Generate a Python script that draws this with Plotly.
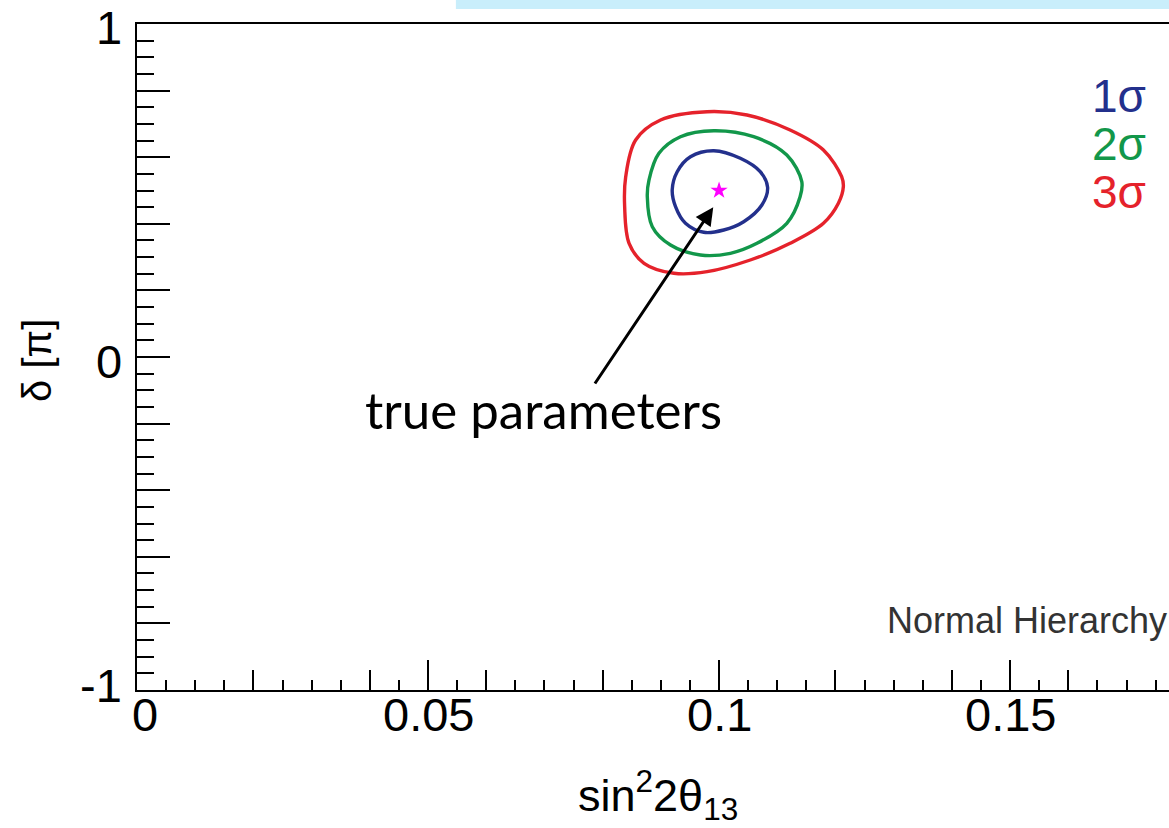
import plotly.graph_objects as go

# Confidence contours in the (sin^2 2theta13, delta/pi) plane
blue_x = [0.09195, 0.09281, 0.09509, 0.09909, 0.10365, 0.10707, 0.10834, 0.10736,
          0.10423, 0.10080, 0.09738, 0.09423, 0.09252]
blue_y = [0.5015, 0.5565, 0.6015, 0.6195, 0.5967, 0.5565, 0.5096, 0.4565,
          0.4063, 0.3814, 0.3745, 0.4015, 0.4514]

green_x = [0.08767, 0.08796, 0.08967, 0.09337, 0.09909, 0.10594, 0.11164, 0.11421,
           0.11392, 0.11164, 0.10651, 0.10194, 0.09680, 0.09166, 0.08853]
green_y = [0.4814, 0.5315, 0.6117, 0.6616, 0.6796, 0.6616, 0.6066, 0.5264,
           0.4814, 0.4015, 0.3414, 0.3114, 0.3063, 0.3363, 0.3913]

red_x = [0.08378, 0.08396, 0.08567, 0.08995, 0.09795, 0.10479, 0.11221, 0.11793,
         0.12106, 0.12135, 0.12050, 0.11793, 0.11221, 0.10536, 0.09795, 0.09224,
         0.08711, 0.08454]
red_y = [0.4514, 0.5414, 0.6517, 0.7117, 0.7366, 0.7267, 0.6817, 0.6216,
         0.5414, 0.5114, 0.4616, 0.4015, 0.3414, 0.2913, 0.2562, 0.2514,
         0.2814, 0.3414]

# True parameter point
true_x = [0.1]
true_y = [0.5]

# Arrow from label to the true point
arrow_head = (0.099, 0.45)
arrow_tail = (0.0785, -0.084)

# Axis ranges and ticks
x_range = [0, 0.1773]
y_range = [-1, 1]
x_major = [0, 0.05, 0.1, 0.15]
x_major_text = ["0", "0.05", "0.1", "0.15"]
x_medium = [0.02, 0.04, 0.06, 0.08, 0.12, 0.14, 0.16]
y_major = [-1, -0.8, -0.6, -0.4, -0.2, 0, 0.2, 0.4, 0.6, 0.8, 1]
y_label_vals = [1, 0, -1]
y_label_text = ["1", "0", "-1"]

sigma_labels = ["1σ", "2σ", "3σ"]
colors = {"blue": "#23308c", "green": "#12974a", "red": "#e5222b"}

W, H = 1169, 828
ML, MT, MB = 137, 24, 138
axis_font = "Liberation Sans, Arial, sans-serif"


def closed(xs, ys):
    return xs + xs[:1], ys + ys[:1]


fig = go.Figure()
for xs, ys, c in [(red_x, red_y, colors["red"]),
                  (green_x, green_y, colors["green"]),
                  (blue_x, blue_y, colors["blue"])]:
    cx, cy = closed(xs, ys)
    fig.add_trace(go.Scatter(x=cx, y=cy, mode="lines",
                             line=dict(color=c, width=3.4, shape="spline", smoothing=1.0),
                             showlegend=False, hoverinfo="skip"))

fig.add_trace(go.Scatter(x=true_x, y=true_y, mode="markers",
                         marker=dict(symbol="star", size=13, color="#ff00ff"),
                         showlegend=False, hoverinfo="skip"))

# placeholder trace so the overlay axis carrying the medium ticks is drawn
fig.add_trace(go.Scatter(x=[None], y=[None], xaxis="x2", showlegend=False, hoverinfo="skip"))

fig.update_layout(
    width=W, height=H,
    margin=dict(l=ML, r=0, t=MT, b=MB),
    paper_bgcolor="white", plot_bgcolor="white",
    xaxis=dict(range=x_range, tickmode="array", tickvals=x_major, showticklabels=False,
               ticks="inside", ticklen=30, tickwidth=2, tickcolor="black",
               minor=dict(dtick=0.005, tick0=0, ticks="inside", ticklen=10,
                          tickwidth=2, tickcolor="black"),
               showline=True, linecolor="black", linewidth=2, mirror=True,
               showgrid=False, zeroline=False),
    xaxis2=dict(range=x_range, overlaying="x", anchor="y", side="bottom",
                tickmode="array", tickvals=x_medium, showticklabels=False,
                ticks="inside", ticklen=20, tickwidth=2, tickcolor="black",
                showline=False, showgrid=False, zeroline=False),
    yaxis=dict(range=y_range, tickmode="array", tickvals=y_major, showticklabels=False,
               ticks="inside", ticklen=33, tickwidth=2, tickcolor="black",
               minor=dict(dtick=0.05, tick0=0, ticks="inside", ticklen=17,
                          tickwidth=2, tickcolor="black"),
               showline=True, linecolor="black", linewidth=2,
               showgrid=False, zeroline=False),
)

# x tick labels
x_shift = {"0": 8}
for v, t in zip(x_major, x_major_text):
    fig.add_annotation(x=v, y=0, xref="x", yref="paper", text=t, showarrow=False,
                       xanchor="center", yanchor="middle", yshift=-24,
                       xshift=x_shift.get(t, 0),
                       font=dict(family=axis_font, size=47, color="black"))

# y tick labels
y_shift = {"1": -3, "0": -4, "-1": 5}
for v, t in zip(y_label_vals, y_label_text):
    fig.add_annotation(x=0, y=v, xref="paper", yref="y", text=t, showarrow=False,
                       xanchor="right", yanchor="middle", xshift=-13,
                       yshift=y_shift[t],
                       font=dict(family=axis_font, size=47, color="black"))

# axis titles
fig.add_annotation(x=0.505, y=-0.158, xref="paper", yref="paper",
                   text="sin<sup>2</sup>2θ<sub>13</sub>", showarrow=False,
                   xanchor="center", yanchor="middle",
                   font=dict(family=axis_font, size=45, color="black"))
fig.add_annotation(x=-0.097, y=0.4955, xref="paper", yref="paper",
                   text="δ [π]", showarrow=False, textangle=-90,
                   xanchor="center", yanchor="middle",
                   font=dict(family=axis_font, size=40, color="black"))

# sigma labels
for i, (lab, c) in enumerate(zip(sigma_labels, [colors["blue"], colors["green"], colors["red"]])):
    fig.add_annotation(x=0.9234, y=0.892 - 0.072 * i, xref="paper", yref="paper",
                       text=lab, showarrow=False, xanchor="left", yanchor="middle",
                       font=dict(family=axis_font, size=46, color=c))

fig.add_annotation(x=0.7248, y=0.105, xref="paper", yref="paper",
                   text="Normal Hierarchy", showarrow=False,
                   xanchor="left", yanchor="middle",
                   font=dict(family=axis_font, size=36, color="#333333"))

# arrow and its label
fig.add_annotation(x=arrow_head[0], y=arrow_head[1], ax=arrow_tail[0], ay=arrow_tail[1],
                   xref="x", yref="y", axref="x", ayref="y",
                   showarrow=True, arrowhead=2, arrowsize=1.2, arrowwidth=3,
                   arrowcolor="black", text="")
fig.add_annotation(x=0.0698, y=-0.159, xref="x", yref="y",
                   text="true parameters", showarrow=False,
                   xanchor="center", yanchor="middle",
                   font=dict(family="Lato, sans-serif", size=51, color="black"))

# light blue banner at the top edge
fig.add_shape(type="rect", xref="paper", yref="paper",
              x0=0.309, x1=1.01, y0=1.0225, y1=1.05,
              fillcolor="#c9eefb", line=dict(width=0), layer="below")

fig.write_html("out.html")
